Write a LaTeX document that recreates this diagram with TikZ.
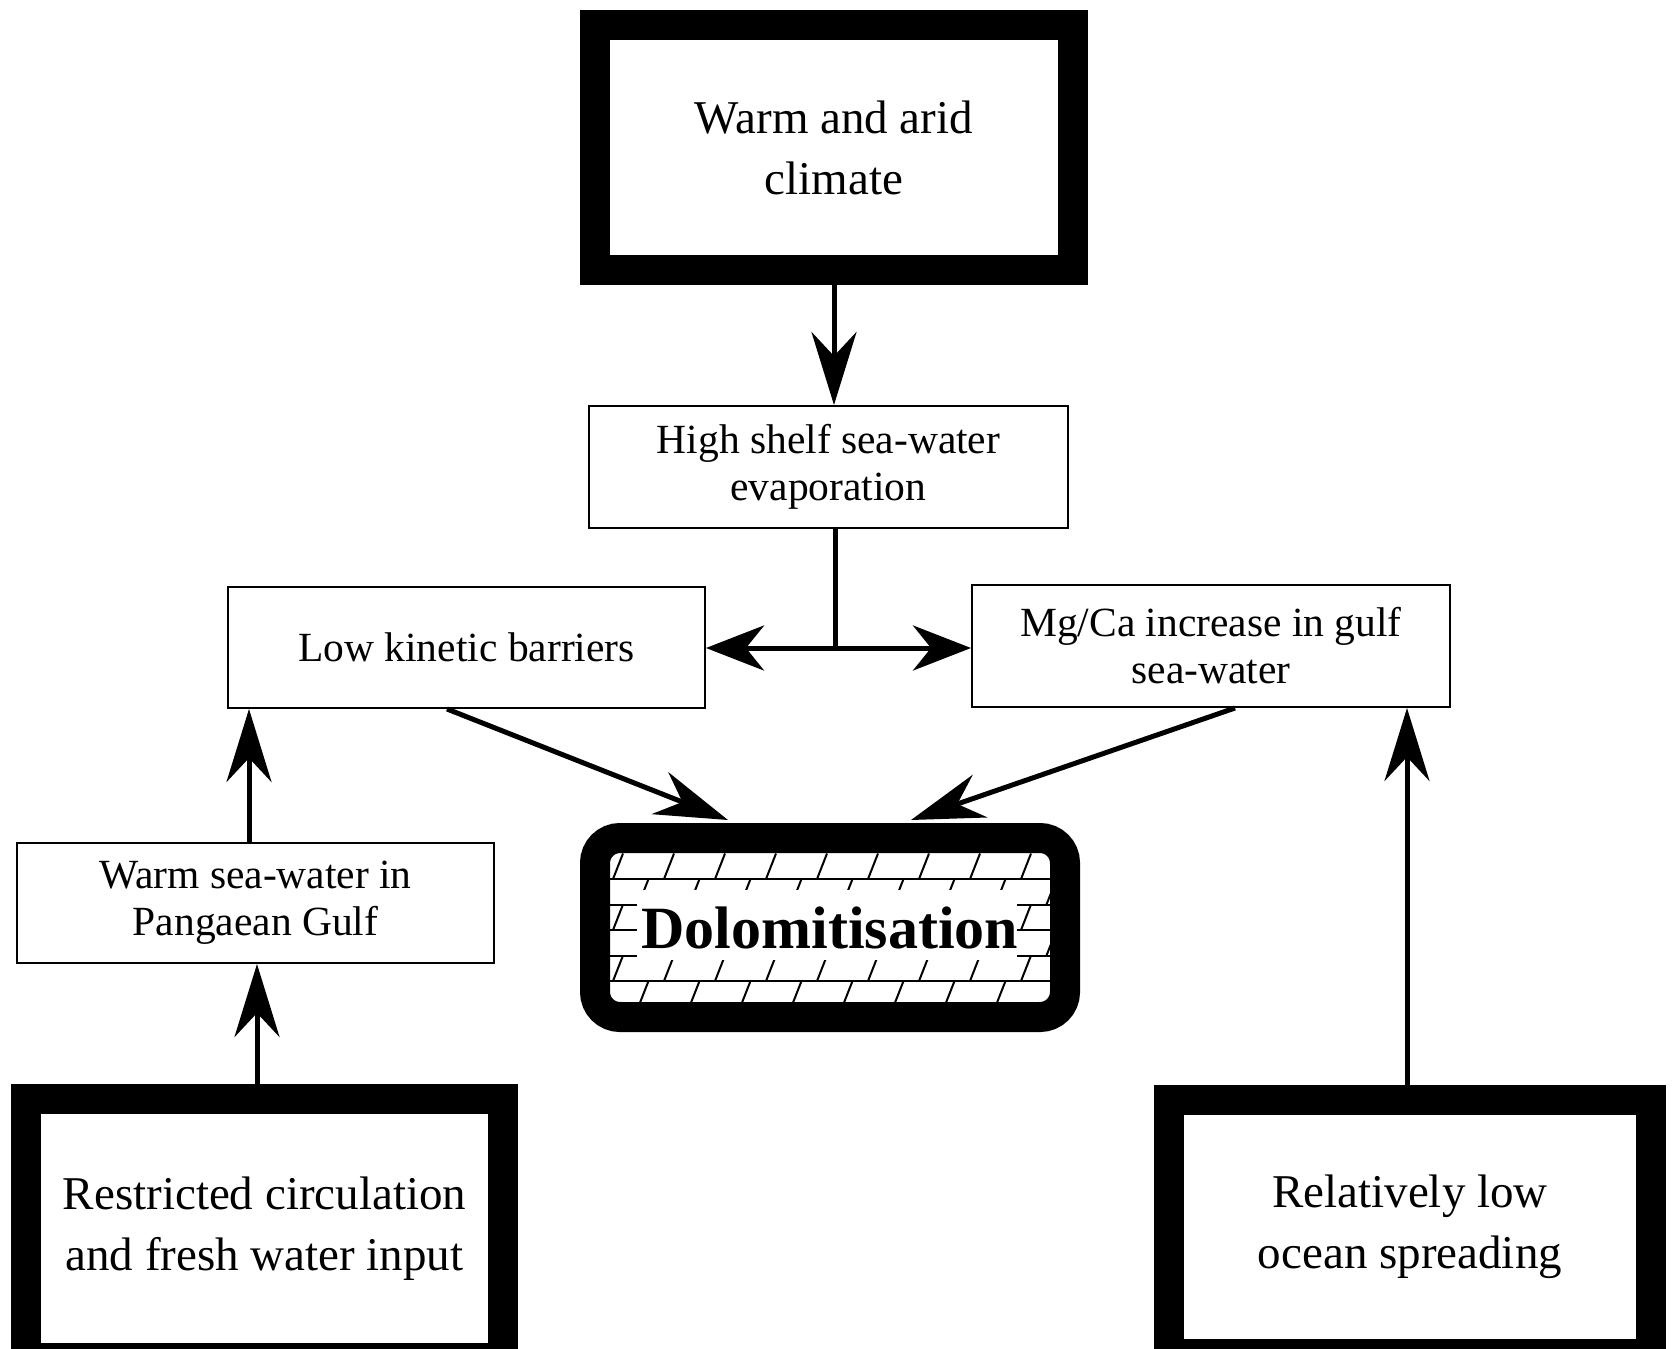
\documentclass[tikz,border=0pt]{standalone}
\usepackage{fontspec}
\setmainfont{Liberation Serif}
\usetikzlibrary{arrows.meta}
\newcommand\BigTxt{\fontsize{47}{61}\selectfont}
\newcommand\SmallTxt{\fontsize{41.5}{47}\selectfont}
\newcommand\DoloTxt{\fontsize{60}{66}\selectfont\bfseries}
\begin{document}
\begin{tikzpicture}[x=1pt,y=-1pt,
  thickbox/.style={draw, line width=30pt, inner sep=0pt, align=center, font=\BigTxt},
  thinbox/.style={draw, line width=2pt, inner sep=0pt, align=center, font=\SmallTxt},
  arr/.style={line width=5pt, -{Stealth[length=73pt,width=45pt,inset=24pt]}},
  harr/.style={line width=5pt, -{Stealth[length=58pt,width=45pt,inset=18pt]}},
  hatchline/.style={line width=2pt}]
\useasboundingbox (0,0) rectangle (1679,1349);

% hatching of the dolomite symbol
\begin{scope}
  \clip[rounded corners=10pt] (610,853) rectangle (1050,1002);
  \foreach \k in {0,...,5}{
    \pgfmathsetmacro\ytop{853.5+25.5*\k}
    \pgfmathsetmacro\ybot{\ytop+25.5}
    \draw[hatchline] (600,\ybot) -- (1060,\ybot);
    \pgfmathsetmacro\xoff{mod(\k,2)==0 ? 618 : 643.5}
    \foreach \j in {-1,...,9}{
      \pgfmathsetmacro\xm{\xoff+51*\j}
      \draw[hatchline] ({\xm-5},\ybot) -- ({\xm+5},\ytop);
    }
  }
  \fill[white] (637,890) rectangle (1017,960);
\end{scope}

% nodes
\node[thickbox, minimum width=478pt, minimum height=245pt] (climate) at (834,147.5) {Warm and arid\\climate};
\node[thinbox, minimum width=479pt, minimum height=122pt] (high) at (828.5,467) {High shelf sea-water\\evaporation};
\node[thinbox, minimum width=477pt, minimum height=121pt] (low) at (466.5,647.5) {Low kinetic barriers};
\node[thinbox, minimum width=478pt, minimum height=122pt] (mg) at (1211,646) {Mg/Ca increase in gulf\\sea-water};
\node[thinbox, minimum width=477pt, minimum height=120pt] (warm) at (255.5,903) {Warm sea-water in\\Pangaean Gulf};
\node[thickbox, minimum width=477pt, minimum height=259pt] (restr) at (264.5,1228.5) {Restricted circulation\\and fresh water input};
\node[thickbox, minimum width=482pt, minimum height=254pt] (ocean) at (1410,1227) {Relatively low\\ocean spreading};
\node[draw, line width=30pt, rounded corners=25pt, inner sep=0pt, minimum width=470pt, minimum height=179pt, font=\DoloTxt] (dolo) at (830,927.5) {Dolomitisation};

% connectors
\draw[arr] (climate.south) -- (climate.south |- high.north);
\coordinate (j) at (835,648);
\draw[line width=5pt] (j |- high.south) -- (j);
\draw[harr] (j) -- (j -| low.east);
\draw[harr] (j) -- (j -| mg.west);
\draw[arr] ([xshift=-19.5pt]low.south) -- ([xshift=-102pt,yshift=3pt]dolo.north);
\draw[arr] ([xshift=24pt]mg.south) -- ([xshift=81pt,yshift=3pt]dolo.north);
\coordinate (w1) at ([xshift=-6.5pt]warm.north);
\draw[arr] (w1) -- (w1 |- low.south);
\coordinate (r1) at ([xshift=-7.5pt]restr.north);
\draw[arr] (r1) -- (r1 |- warm.south);
\coordinate (o1) at ([xshift=-3pt]ocean.north);
\draw[arr] (o1) -- (o1 |- mg.south);
\end{tikzpicture}
\end{document}
